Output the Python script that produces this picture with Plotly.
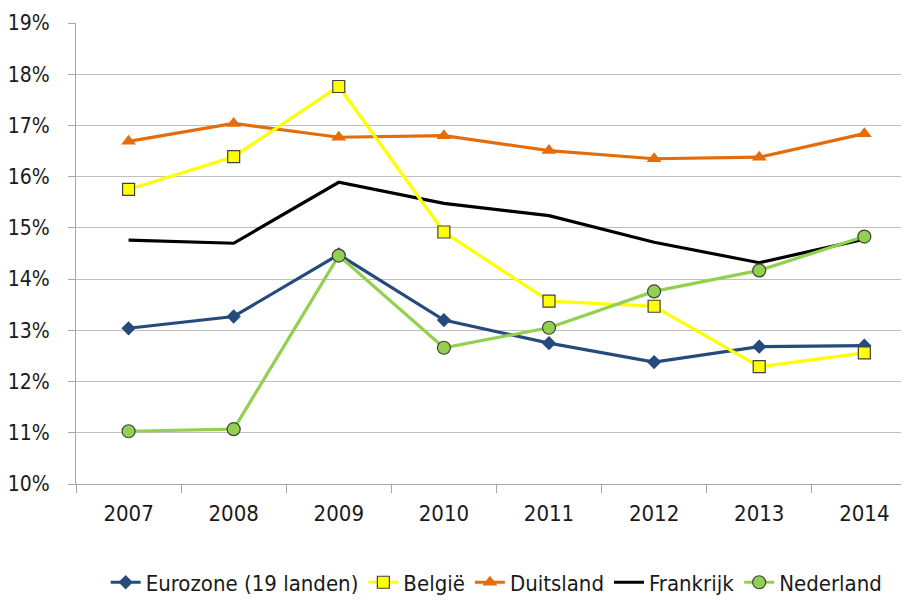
import plotly.graph_objects as go

years = ["2007", "2008", "2009", "2010", "2011", "2012", "2013", "2014"]

eurozone = [13.04, 13.27, 14.48, 13.20, 12.75, 12.38, 12.68, 12.70]
belgie = [15.75, 16.39, 17.76, 14.92, 13.57, 13.47, 12.29, 12.56]
duitsland = [16.69, 17.04, 16.77, 16.80, 16.51, 16.35, 16.38, 16.84]
frankrijk = [14.76, 14.70, 15.89, 15.48, 15.24, 14.72, 14.32, 14.78]
nederland = [11.03, 11.07, 14.46, 12.66, 13.05, 13.76, 14.17, 14.83]

y_ticks = [10, 11, 12, 13, 14, 15, 16, 17, 18, 19]
y_labels = [f"{v}%" for v in y_ticks]

fig = go.Figure()

fig.add_trace(go.Scatter(
    x=years, y=eurozone, name="Eurozone (19 landen)", mode="lines+markers",
    line=dict(color="#254B7D", width=3.2),
    marker=dict(symbol="diamond", size=11, color="#254B7D")))

fig.add_trace(go.Scatter(
    x=years, y=duitsland, name="Duitsland", mode="lines+markers",
    line=dict(color="#E46C0A", width=3.2),
    marker=dict(symbol="triangle-up", size=13, color="#E46C0A")))

fig.add_trace(go.Scatter(
    x=years, y=frankrijk, name="Frankrijk", mode="lines",
    line=dict(color="#000000", width=3.2)))

fig.add_trace(go.Scatter(
    x=years, y=belgie, name="België", mode="lines+markers",
    line=dict(color="#FFFF00", width=3.2),
    marker=dict(symbol="square", size=12, color="#FFFF00",
                line=dict(color="#404040", width=1.2))))

fig.add_trace(go.Scatter(
    x=years, y=nederland, name="Nederland", mode="lines+markers",
    line=dict(color="#92D050", width=3.2),
    marker=dict(symbol="circle", size=13, color="#92D050",
                line=dict(color="#404040", width=1.2))))

# page body has an 8px margin, so the figure is a bit smaller than the window
fig.update_layout(
    width=901, height=593,
    margin=dict(l=68, r=0, t=15, b=117, autoexpand=False),
    plot_bgcolor="white", paper_bgcolor="white",
    font=dict(family="DejaVu Sans Condensed, Liberation Sans, sans-serif", color="#1a1a1a"),
    showlegend=True,
    legend=dict(
        orientation="h", x=0.505, xanchor="center", y=-0.168, yanchor="top",
        font=dict(size=22), traceorder="normal", itemwidth=30,
    ),
    xaxis=dict(
        type="category", range=[-0.5, 7.425], automargin=False,
        tickfont=dict(size=22), ticklabelstandoff=10,
        showgrid=False, showline=True, linecolor="#A6A6A6", linewidth=1,
        ticks="outside", ticklen=8, tickcolor="#A6A6A6",
        tickson="boundaries",
    ),
    yaxis=dict(
        range=[10, 19], tickvals=y_ticks, ticktext=y_labels, automargin=False,
        tickfont=dict(size=21), ticklabelstandoff=14,
        showgrid=True, gridcolor="#BFBFBF", gridwidth=1,
        showline=True, linecolor="#A6A6A6", linewidth=1,
        ticks="outside", ticklen=7, tickcolor="#A6A6A6",
        zeroline=False,
    ),
)

# legend order as in the reference
order = ["Eurozone (19 landen)", "België", "Duitsland", "Frankrijk", "Nederland"]
for t in fig.data:
    t.legendrank = order.index(t.name) + 1

fig.write_html("out.html")
